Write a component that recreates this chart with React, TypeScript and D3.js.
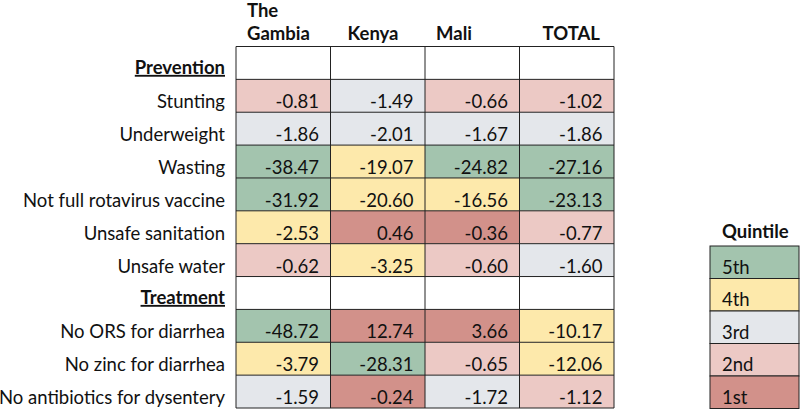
import React from "react";
import * as d3 from "d3";

const columns = ["The Gambia", "Kenya", "Mali", "TOTAL"];
const headerLines = [["The", "Gambia"], ["Kenya"], ["Mali"], ["TOTAL"]];
const headerDx = [11, 17, 11, 23];

type Row = { label: string; section?: boolean; values?: number[]; quint?: number[] };

const rowLabels = [
  "Prevention",
  "Stunting",
  "Underweight",
  "Wasting",
  "Not full rotavirus vaccine",
  "Unsafe sanitation",
  "Unsafe water",
  "Treatment",
  "No ORS for diarrhea",
  "No zinc for diarrhea",
  "No antibiotics for dysentery",
];
const sectionRows = ["Prevention", "Treatment"];

const stunting = [-0.81, -1.49, -0.66, -1.02];
const underweight = [-1.86, -2.01, -1.67, -1.86];
const wasting = [-38.47, -19.07, -24.82, -27.16];
const rotavirus = [-31.92, -20.6, -16.56, -23.13];
const sanitation = [-2.53, 0.46, -0.36, -0.77];
const water = [-0.62, -3.25, -0.6, -1.6];
const noOrs = [-48.72, 12.74, 3.66, -10.17];
const noZinc = [-3.79, -28.31, -0.65, -12.06];
const noAntibiotics = [-1.59, -0.24, -1.72, -1.12];

// quintile per cell (5 = 5th ... 1 = 1st)
const qStunting = [2, 3, 2, 2];
const qUnderweight = [3, 3, 3, 3];
const qWasting = [5, 4, 5, 5];
const qRotavirus = [5, 4, 4, 5];
const qSanitation = [4, 1, 1, 2];
const qWater = [2, 4, 2, 3];
const qNoOrs = [5, 1, 1, 4];
const qNoZinc = [4, 5, 2, 4];
const qNoAntibiotics = [3, 1, 3, 2];

const valueRows: Record<string, number[]> = {
  Stunting: stunting,
  Underweight: underweight,
  Wasting: wasting,
  "Not full rotavirus vaccine": rotavirus,
  "Unsafe sanitation": sanitation,
  "Unsafe water": water,
  "No ORS for diarrhea": noOrs,
  "No zinc for diarrhea": noZinc,
  "No antibiotics for dysentery": noAntibiotics,
};
const quintRows: Record<string, number[]> = {
  Stunting: qStunting,
  Underweight: qUnderweight,
  Wasting: qWasting,
  "Not full rotavirus vaccine": qRotavirus,
  "Unsafe sanitation": qSanitation,
  "Unsafe water": qWater,
  "No ORS for diarrhea": qNoOrs,
  "No zinc for diarrhea": qNoZinc,
  "No antibiotics for dysentery": qNoAntibiotics,
};

const legendLabels = ["5th", "4th", "3rd", "2nd", "1st"];
const legendQuints = [5, 4, 3, 2, 1];
const quintColors = ["#d2918a", "#ecc9c5", "#e4e7eb", "#fde9ab", "#a3c4ae"];

const FONT = "Lato, 'Open Sans', sans-serif";

export default function App() {
  const W = 800, H = 412;
  const x = d3.scaleBand<string>().domain(columns).range([236, 614]);
  const y = d3.scaleBand<string>().domain(rowLabels).range([46.5, 408]);
  const color = d3.scaleOrdinal<number, string>().domain([1, 2, 3, 4, 5]).range(quintColors);
  const ly = d3.scaleBand<string>().domain(legendLabels).range([246, 408.5]);
  const fmt = (v: number) => d3.format(".2f")(v).replace("\u2212", "-");
  const fs = 18.5;

  const rows: Row[] = rowLabels.map((l) => ({
    label: l,
    section: sectionRows.includes(l),
    values: valueRows[l],
    quint: quintRows[l],
  }));

  return (
    <svg width={W} height={H} style={{ position: "absolute", left: 0, top: 0, fontFamily: FONT }}>
      <rect x={0} y={0} width={W} height={H} fill="#fff" />
      {/* column headers */}
      {columns.map((c, i) => (
        <text key={c} x={(x(c) as number) + headerDx[i]} fontSize={fs} fontWeight="bold" fill="#111">
          {headerLines[i].map((ln, j) => (
            <tspan key={j} x={(x(c) as number) + headerDx[i]} y={39.5 - (headerLines[i].length - 1 - j) * 22.5}>
              {ln}
            </tspan>
          ))}
        </text>
      ))}
      {/* cells */}
      {rows.map((r) => (
        <g key={r.label}>
          {columns.map((c, i) => (
            <rect
              key={c}
              x={x(c)}
              y={y(r.label)}
              width={x.bandwidth()}
              height={y.bandwidth()}
              fill={r.section ? "#fff" : color(r.quint![i])}
            />
          ))}
          <text
            x={225}
            y={(y(r.label) as number) + y.bandwidth() - (r.section ? 5.5 : 4)}
            textAnchor="end"
            fontSize={fs}
            fontWeight={r.section ? "bold" : "normal"}
            textDecoration={r.section ? "underline" : "none"}
            fill="#111"
          >
            {r.label}
          </text>
          {!r.section &&
            r.values!.map((v, i) => (
              <text
                key={i}
                x={(x(columns[i]) as number) + x.bandwidth() - 11.5}
                y={(y(r.label) as number) + y.bandwidth() - 4}
                textAnchor="end"
                fontSize={fs}
                fill="#111"
              >
                {fmt(v)}
              </text>
            ))}
        </g>
      ))}
      {/* grid lines */}
      {columns.concat(["_end"]).map((c, i) => {
        const xx = i < columns.length ? (x(c) as number) : 614;
        return <line key={c} x1={xx} x2={xx} y1={46.5} y2={408} stroke="#222" strokeWidth={1} />;
      })}
      {rowLabels.concat(["_end"]).map((l, i) => {
        const yy = i < rowLabels.length ? (y(l) as number) : 408;
        return <line key={l} x1={236} x2={614} y1={yy} y2={yy} stroke="#222" strokeWidth={1} />;
      })}
      {/* legend */}
      <text x={722} y={238} fontSize={fs} fontWeight="bold" fill="#111">
        Quintile
      </text>
      {legendLabels.map((l, i) => (
        <g key={l}>
          <rect
            x={710}
            y={ly(l)}
            width={89}
            height={ly.bandwidth()}
            fill={color(legendQuints[i])}
            stroke="#222"
            strokeWidth={1}
          />
          <text x={722} y={(ly(l) as number) + ly.bandwidth() - 5} fontSize={fs} fill="#111">
            {l}
          </text>
        </g>
      ))}
    </svg>
  );
}
